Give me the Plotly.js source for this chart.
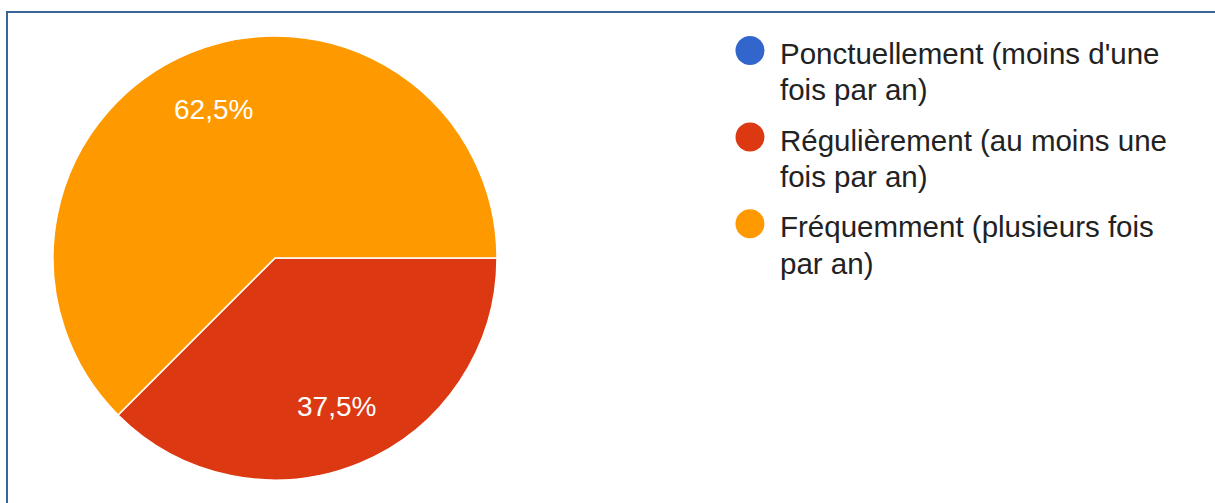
<!DOCTYPE html>
<html>
<head>
<meta charset="utf-8">
<script src="https://cdn.plot.ly/plotly-3.0.1.min.js"></script>
<style>
  html, body { margin: 0; padding: 0; background: #ffffff; }
  #chart { width: 1215px; height: 503px; }
</style>
</head>
<body>
<div id="chart"></div>
<script>
// ---- data ----
const categories = [
  "Ponctuellement (moins d'une fois par an)",
  "Régulièrement (au moins une fois par an)",
  "Fréquemment (plusieurs fois par an)"
];
const values = [0, 37.5, 62.5];
const colors = ["#3366cc", "#dc3912", "#ff9900"];
const legendLines = [
  ["Ponctuellement (moins d'une", "fois par an)"],
  ["Régulièrement (au moins une", "fois par an)"],
  ["Fréquemment (plusieurs fois", "par an)"]
];

// ---- layout helpers (pixels) ----
const W = 1215, H = 503;
const cx = 275, cy = 258, R = 222;
const rotation = 90;
const px = x => x / W;
const py = y => (H - y) / H;
const FONT = 'Arial, Liberation Sans, sans-serif';

const trace = {
  type: 'pie',
  labels: categories,
  values: values,
  sort: false,
  direction: 'clockwise',
  rotation: rotation,
  marker: { colors: colors, line: { color: '#ffffff', width: 1.5 } },
  textinfo: 'none',
  hoverinfo: 'label+percent',
  showlegend: false,
  domain: { x: [px(cx - R), px(cx + R)], y: [py(cy + R), py(cy - R)] }
};

const annotations = [];
const shapes = [];

// percentage labels placed along each slice bisector
const total = values.reduce((a, b) => a + b, 0);
let cum = 0;
values.forEach((v, i) => {
  if (v > 0) {
    const mid = (rotation + 360 * (cum + v / 2) / total) * Math.PI / 180;
    const r = 0.724 * R;
    const x = cx + r * Math.sin(mid);
    const y = cy - r * Math.cos(mid);
    const pct = (100 * v / total).toFixed(1).replace(/\.0$/, '').replace('.', ',') + '%';
    annotations.push({
      xref: 'paper', yref: 'paper', x: px(x), y: py(y),
      xanchor: 'center', yanchor: 'middle', showarrow: false,
      text: pct, font: { family: FONT, size: 28, color: '#ffffff' }
    });
  }
  cum += v;
});

// legend (circles + wrapped labels)
const itemTop = 53.5, itemGap = 86.6, lineGap = 36.4;
legendLines.forEach((lines, i) => {
  const y0 = itemTop + i * itemGap;
  const cyc = 50.5 + i * itemGap;
  shapes.push({
    type: 'circle', xref: 'paper', yref: 'paper',
    x0: px(750 - 14.5), x1: px(750 + 14.5),
    y0: py(cyc + 14.5), y1: py(cyc - 14.5),
    fillcolor: colors[i], line: { width: 0 }
  });
  lines.forEach((t, k) => {
    annotations.push({
      xref: 'paper', yref: 'paper',
      x: px(778), y: py(y0 + k * lineGap),
      xanchor: 'left', yanchor: 'middle',
      text: t, showarrow: false,
      font: { family: FONT, size: 29.5, color: '#222222' }
    });
  });
});

// frame border
shapes.push({
  type: 'rect', xref: 'paper', yref: 'paper',
  x0: px(7), x1: px(1230), y0: py(520), y1: py(12),
  line: { color: '#3a6398', width: 2 }, fillcolor: 'rgba(0,0,0,0)'
});

const layout = {
  width: W, height: H,
  margin: { l: 0, r: 0, t: 0, b: 0 },
  paper_bgcolor: '#ffffff',
  separators: ', ',
  showlegend: false,
  annotations: annotations,
  shapes: shapes
};

Plotly.newPlot('chart', [trace], layout, { displayModeBar: false, staticPlot: true });
</script>
</body>
</html>
